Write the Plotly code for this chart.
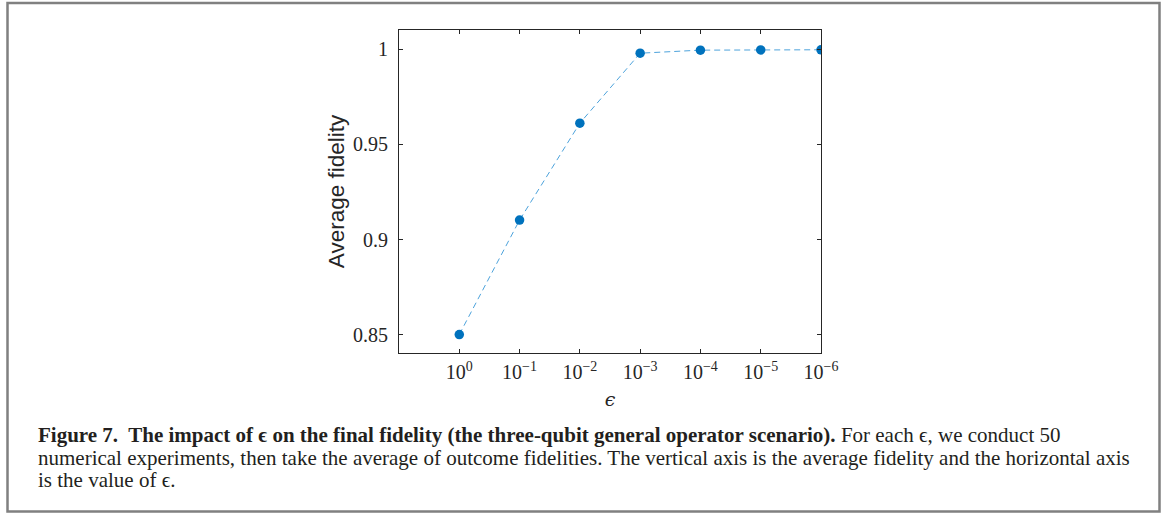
import plotly.graph_objects as go

eps_labels = ["10<sup>0</sup>", "10<sup>\u22121</sup>", "10<sup>\u22122</sup>", "10<sup>\u22123</sup>",
              "10<sup>\u22124</sup>", "10<sup>\u22125</sup>", "10<sup>\u22126</sup>"]
fidelity = [0.8500, 0.9102, 0.9612, 0.9980, 0.9996, 0.9997, 0.9998]
y_ticks = [0.85, 0.9, 0.95, 1.0]
y_ticktext = ["0.85", "0.9", "0.95", "1"]

x_pos = list(range(len(eps_labels)))

W, H = 1165, 515
L, R, T, B = 399, 821, 30, 353
pw, ph = R - L, B - T

def px(x):
    return (x - L) / pw

def py(y):
    return (B - y) / ph

fig = go.Figure()
fig.add_trace(go.Scatter(
    x=x_pos, y=fidelity, mode="lines",
    line=dict(color="#4da3dc", width=1, dash="6px,4px"),
    showlegend=False, hoverinfo="skip"))
fig.add_trace(go.Scatter(
    x=x_pos, y=fidelity, mode="markers",
    marker=dict(color="#0072BD", size=9.5),
    showlegend=False))

axis_common = dict(
    showline=True, linecolor="#262626", linewidth=1, mirror="allticks",
    ticks="inside", ticklen=4, tickcolor="#262626", tickwidth=1,
    showgrid=False, zeroline=False,
    tickfont=dict(family="Liberation Serif, DejaVu Serif, serif", size=20, color="#262626"),
)

fig.update_layout(
    width=W, height=H,
    margin=dict(l=L, r=W - R, t=T, b=H - B, pad=0),
    paper_bgcolor="white", plot_bgcolor="white",
    xaxis=dict(
        range=[-1, 6], tickmode="array", tickvals=x_pos, ticktext=eps_labels,
        ticklabelstandoff=1,
        title=dict(text="<i>\u03f5</i>", standoff=10,
                   font=dict(family="DejaVu Serif, serif", size=19, color="#262626")),
        **axis_common),
    yaxis=dict(
        range=[0.8403, 1.0102], tickmode="array", tickvals=y_ticks, ticktext=y_ticktext,
        ticklabelstandoff=6,
        title=dict(text="Average fidelity", standoff=2,
                   font=dict(family="Liberation Sans, Arial, sans-serif", size=22.5, color="#262626")),
        **axis_common),
)

# outer frame
fig.add_shape(type="rect", xref="paper", yref="paper",
              x0=px(7.5), x1=px(1159.5), y0=py(511.5), y1=py(3),
              line=dict(color="#808080", width=2.5), fillcolor="rgba(0,0,0,0)", layer="below")

cap_font = dict(family="Liberation Serif, DejaVu Serif, serif", size=21, color="#231f20")
lines = [
    "<b>Figure 7.  The impact of \u03f5 on the final fidelity (the three-qubit general operator scenario).</b> For each \u03f5, we conduct 50",
    "numerical experiments, then take the average of outcome fidelities. The vertical axis is the average fidelity and the horizontal axis",
    "is the value of \u03f5.",
]
for i, t in enumerate(lines):
    fig.add_annotation(text=t, xref="paper", yref="paper", x=px(36), y=py(435 + 22.5 * i),
                       xanchor="left", yanchor="middle", showarrow=False, font=cap_font, align="left")

fig.write_html("out.html")
